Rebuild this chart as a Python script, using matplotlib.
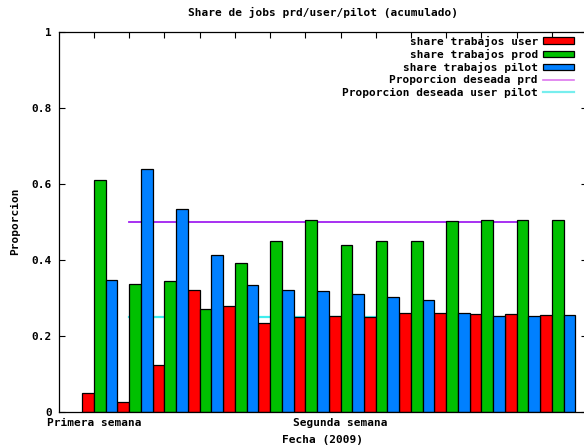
import numpy as np
import matplotlib
matplotlib.use("Agg")
from matplotlib import pyplot as plt
from matplotlib.patches import Patch
from matplotlib.lines import Line2D

# Data, one value per day
days = np.arange(14)
share_user = [0.048, 0.025, 0.123, 0.319, 0.277, 0.233, 0.250,
              0.252, 0.250, 0.259, 0.259, 0.257, 0.257, 0.255]
share_prod = [0.609, 0.336, 0.343, 0.271, 0.391, 0.448, 0.505,
              0.438, 0.448, 0.448, 0.501, 0.503, 0.503, 0.505]
share_pilot = [0.346, 0.639, 0.534, 0.411, 0.334, 0.321, 0.316,
               0.309, 0.302, 0.293, 0.259, 0.252, 0.252, 0.254]
target_days = [1, 12]
target_prd = [0.5, 0.5]
target_user_pilot = [0.25, 0.25]
xtick_pos = [0, 7]
xtick_labels = ["Primera semana", "Segunda semana"]

plt.rcParams['font.family'] = 'DejaVu Sans Mono'
plt.rcParams['font.weight'] = 'bold'
plt.rcParams['font.size'] = 8

W, H = 584, 447
fig = plt.figure(figsize=(W / 100, H / 100), dpi=100)
# plot box runs slightly past the right edge of the image, like the original
left, right, top, bottom = 58.8, 587.0, 31.5, 411.5
ax = fig.add_axes([left / W, 1 - bottom / H, (right - left) / W, (bottom - top) / H])

# target lines go behind the bars
ax.plot(target_days, target_prd, color='#a020f0', lw=1.3, zorder=1)
ax.plot(target_days, target_user_pilot, color='#40eeee', lw=1.6, zorder=1)

w = 1 / 3
kw = dict(width=w, align='edge', edgecolor='black', linewidth=0.9, zorder=2)
ax.bar(days - w, share_user, color='#ff0000', **kw)
ax.bar(days, share_prod, color='#00c000', **kw)
ax.bar(days + w, share_pilot, color='#0080ff', **kw)

ax.set_xlim(-1, 14)
ax.set_ylim(0, 1)
ax.set_yticks([0, 0.2, 0.4, 0.6, 0.8, 1])
ax.set_yticklabels(["0", "0.2", "0.4", "0.6", "0.8", "1"])
ax.set_xticks(np.arange(0, 14))
ax.set_xticklabels([xtick_labels[xtick_pos.index(d)] if d in xtick_pos else ""
                    for d in range(14)])
ax.tick_params(direction='in', length=4, width=0.8, top=True, right=True,
               labelsize=8, pad=5)
for s in ax.spines.values():
    s.set_linewidth(0.9)

ax.set_title("Share de jobs prd/user/pilot (acumulado)", fontsize=8,
             fontweight='bold', pad=11)
ax.set_ylabel("Proporcion", fontsize=8, fontweight='bold', labelpad=8)
ax.set_xlabel("Fecha (2009)", fontsize=8, fontweight='bold', labelpad=5)

handles = [Patch(facecolor='#ff0000', edgecolor='black', linewidth=0.9),
           Patch(facecolor='#00c000', edgecolor='black', linewidth=0.9),
           Patch(facecolor='#0080ff', edgecolor='black', linewidth=0.9),
           Line2D([], [], color='#dd77ee', lw=1.2),
           Line2D([], [], color='#77eeee', lw=1.6)]
labels = ["share trabajos user", "share trabajos prod", "share trabajos pilot",
          "Proporcion deseada prd", "Proporcion deseada user pilot"]
leg = ax.legend(handles, labels, loc='upper right', frameon=False,
                markerfirst=False, handlelength=2.8, handleheight=0.55,
                handletextpad=0.45, labelspacing=0.2,
                bbox_to_anchor=((574 - left) / (right - left), 1.0 - 4 / (bottom - top)),
                borderaxespad=0, borderpad=0, fontsize=8)
for t in leg.get_texts():
    t.set_ha('right')

fig.savefig("out.png", dpi=100)
